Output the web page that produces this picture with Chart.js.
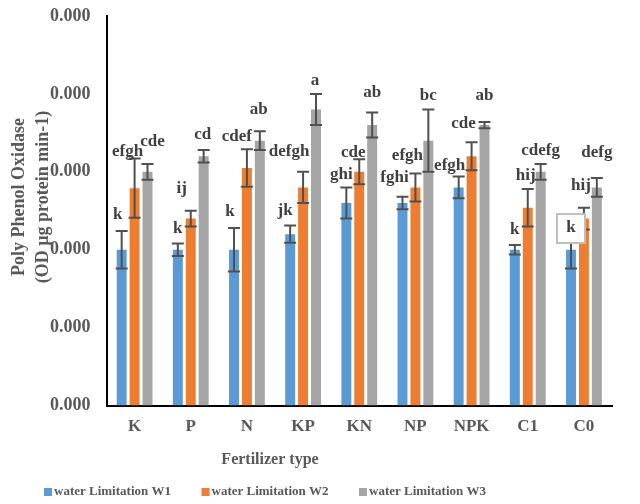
<!DOCTYPE html>
<html>
<head>
<meta charset="utf-8">
<script src="https://cdn.jsdelivr.net/npm/chart.js@4"></script>
<style>
  html, body { margin: 0; padding: 0; background: #fff; }
  #wrap { width: 640px; height: 504px; }
</style>
</head>
<body>
<div id="wrap"><canvas id="myChart" width="640" height="504"></canvas></div>
<script>
// Datos del gráfico
const categories = ['K', 'P', 'N', 'KP', 'KN', 'NP', 'NPK', 'C1', 'C0'];
const seriesNames = ['water Limitation W1', 'water Limitation W2', 'water Limitation W3'];

const w1 = [0.00020, 0.00020, 0.00020, 0.00022, 0.00026, 0.00026, 0.00028, 0.00020, 0.00020];
const w2 = [0.000279, 0.00024, 0.000305, 0.00028, 0.00030, 0.00028, 0.00032, 0.000254, 0.00024];
const w3 = [0.00030, 0.00032, 0.00034, 0.00038, 0.00036, 0.00034, 0.00036, 0.00030, 0.00028];

const err1 = [0.000024, 0.000008, 0.000028, 0.000011, 0.00002, 0.000008, 0.000014, 0.000006, 0.000024];
const err2 = [0.000038, 0.00001, 0.000024, 0.00002, 0.000016, 0.000018, 0.000018, 0.000024, 0.000014];
const err3 = [0.00001, 0.000008, 0.000012, 0.00002, 0.000016, 0.00004, 0.000004, 0.00001, 0.000012];

const letters1 = ['k', 'k', 'k', 'jk', 'ghi', 'fghi', 'efgh', 'k', 'k'];
const letters2 = ['efgh', 'ij', 'cdef', 'defgh', 'cde', 'efgh', 'cde', 'hij', 'hij'];
const letters3 = ['cde', 'cd', 'ab', 'a', 'ab', 'bc', 'ab', 'cdefg', 'defg'];

const yTicks = [0, 0.0001, 0.0002, 0.0003, 0.0004, 0.0005];

const yTitle = ['Poly Phenol Oxidase', '(OD µg protein min-1)'];
const xTitle = 'Fertilizer type';

// desplazamiento de las letras (px) respecto al extremo de la barra de error
const dx1 = [-4, 0, -4, -5, -5, -8, -9, 0, 0];
const dx2 = [-7, -9, -10, -14, -6, -8, -8, -2, -3];
const dx3 = [5, -1, -1, -1, 0, 0, 0, 0, 0];
const dy1 = [-16, -15, -16, -15, -13, -19, -11, -15, -3];
const dy2 = [-7, -22, -13, -20, -7, -18, -19, -13, -22];
const dy3 = [-22, -15, -22, -13, -20, -14, -26, -13, -25];

const FONT = "'Liberation Serif', 'Times New Roman', serif";
const GREY = '#595959';

const errors = [err1, err2, err3];
const letters = [letters1, letters2, letters3];
const offX = [dx1, dx2, dx3];
const offY = [dy1, dy2, dy3];
const colors = ['#5B9BD5', '#ED7D31', '#A5A5A5'];
const values = [w1, w2, w3];

// Barras de error y letras
const errorBars = {
  id: 'errorBars',
  afterDatasetsDraw(chart) {
    const ctx = chart.ctx;
    const y = chart.scales.y;
    chart.data.datasets.forEach((ds, di) => {
      const meta = chart.getDatasetMeta(di);
      meta.data.forEach((bar, i) => {
        const v = ds.data[i];
        const e = errors[di][i];
        const top = y.getPixelForValue(v + e);
        const bot = y.getPixelForValue(v - e);
        ctx.save();
        ctx.strokeStyle = '#505050';
        ctx.lineWidth = 2;
        ctx.beginPath();
        ctx.moveTo(bar.x, top); ctx.lineTo(bar.x, bot);
        ctx.moveTo(bar.x - 6, top); ctx.lineTo(bar.x + 6, top);
        ctx.moveTo(bar.x - 6, bot); ctx.lineTo(bar.x + 6, bot);
        ctx.stroke();
        ctx.restore();
      });
    });
    chart.data.datasets.forEach((ds, di) => {
      const meta = chart.getDatasetMeta(di);
      meta.data.forEach((bar, i) => {
        const top = y.getPixelForValue(ds.data[i] + errors[di][i]);
        const tx = bar.x + offX[di][i];
        const ty = top + offY[di][i];
        ctx.save();
        ctx.font = 'bold 17px ' + FONT;
        ctx.textAlign = 'center';
        ctx.textBaseline = 'middle';
        if (di === 0 && i === categories.length - 1) {
          ctx.fillStyle = '#fff';
          ctx.fillRect(tx - 14, ty - 14, 28, 29);
          ctx.strokeStyle = '#bfbfbf';
          ctx.lineWidth = 2;
          ctx.strokeRect(tx - 14, ty - 14, 28, 29);
        }
        ctx.fillStyle = '#404040';
        ctx.fillText(letters[di][i], tx, ty);
        ctx.restore();
      });
    });
  }
};

// Títulos de ejes y leyenda
const extras = {
  id: 'extras',
  afterDraw(chart) {
    const ctx = chart.ctx;
    ctx.save();
    ctx.fillStyle = GREY;
    ctx.textAlign = 'center';
    ctx.textBaseline = 'middle';

    // eje Y
    ctx.font = 'bold 18px ' + FONT;
    ctx.translate(0, 197);
    ctx.rotate(-Math.PI / 2);
    ctx.fillText(yTitle[0], 0, 19);
    ctx.fillText(yTitle[1], 0, 43);
    ctx.setTransform(1, 0, 0, 1, 0, 0);

    // eje X
    ctx.font = 'bold 16px ' + FONT;
    ctx.fillText(xTitle, 270, 460);

    // leyenda
    ctx.font = 'bold 13px ' + FONT;
    ctx.textAlign = 'left';
    let x = 44;
    chart.data.datasets.forEach((ds) => {
      ctx.fillStyle = ds.backgroundColor;
      ctx.fillRect(x, 488, 8, 8);
      ctx.fillStyle = GREY;
      ctx.fillText(ds.label, x + 10, 492);
      x += 157.5;
    });
    ctx.restore();
  }
};

const data = {
  labels: categories,
  datasets: seriesNames.map((name, k) => ({
    label: name,
    data: values[k],
    backgroundColor: colors[k],
    borderWidth: 0,
    categoryPercentage: 0.69,
    barPercentage: 0.77
  }))
};

const config = {
  type: 'bar',
  data: data,
  options: {
    responsive: false,
    animation: false,
    layout: { padding: { top: 16, right: 28, left: 34, bottom: 56 } },
    plugins: {
      tooltip: { enabled: false },
      legend: { display: false }
    },
    scales: {
      x: {
        grid: { display: false, drawTicks: false },
        border: { color: '#000', width: 2 },
        ticks: { color: GREY, padding: 11, font: { family: FONT, size: 17, weight: 'bold' } }
      },
      y: {
        min: 0,
        max: 0.0005,
        afterBuildTicks: (s) => { s.ticks = yTicks.map(v => ({ value: v })); },
        afterFit: (s) => { s.paddingTop = 0; },
        grid: { display: false, drawTicks: false },
        border: { color: '#000', width: 2 },
        ticks: {
          color: GREY,
          padding: 16,
          font: { family: FONT, size: 18, weight: 'bold' },
          callback: (v) => (Math.floor(Number(v) * 1000 + 1e-9) / 1000).toFixed(3)
        }
      }
    }
  },
  plugins: [errorBars, extras]
};

const myChart = new Chart(document.getElementById('myChart').getContext('2d'), config);
</script>
</body>
</html>
